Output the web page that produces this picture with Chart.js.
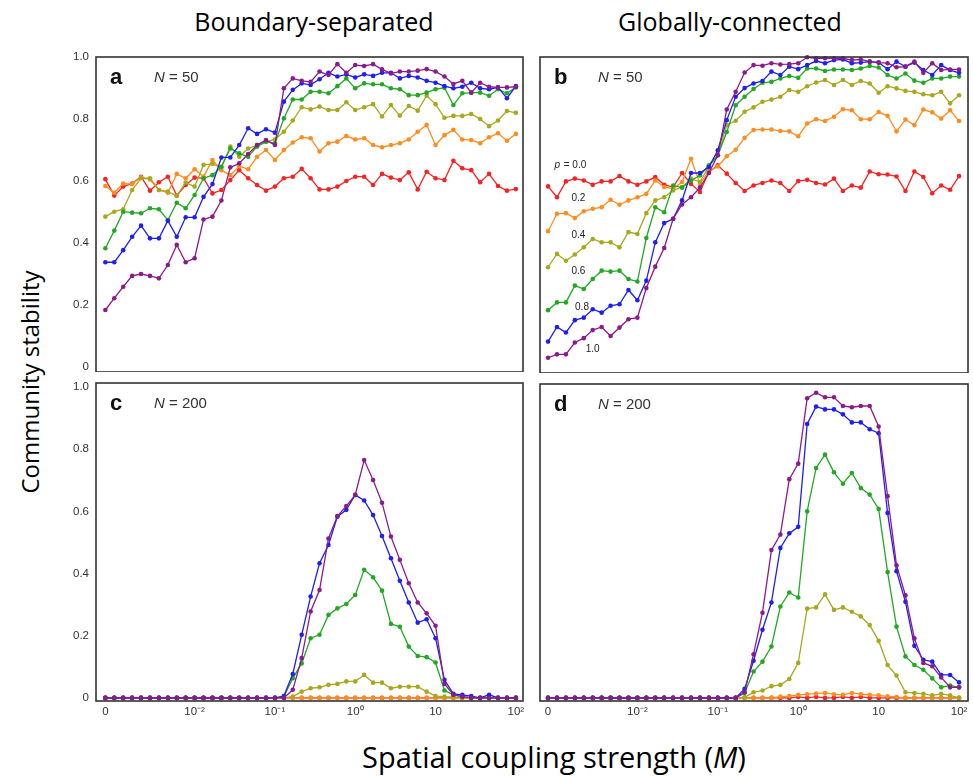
<!DOCTYPE html>
<html>
<head>
<meta charset="utf-8">
<script src="https://cdn.jsdelivr.net/npm/chart.js@4.4.0/dist/chart.umd.min.js"></script>
<style>
  body { margin:0; background:#fff; width:973px; height:777px; position:relative; overflow:hidden; }
  canvas { position:absolute; }
  .head { position:absolute; font-family:"Open Sans", sans-serif; color:#000; white-space:nowrap; line-height:1.3; }
</style>
</head>
<body>
<div class="head" style="left:314px;top:5px;font-size:25px;transform:translateX(-50%)">Boundary-separated</div>
<div class="head" style="left:730px;top:5px;font-size:25px;transform:translateX(-50%)">Globally-connected</div>
<div class="head" style="left:30px;top:382px;font-size:24px;transform:translate(-50%,-50%) rotate(-90deg)">Community stability</div>
<div class="head" style="left:554px;top:738px;font-size:29px;transform:translateX(-50%)">Spatial coupling strength (<i>M</i>)</div>

<canvas id="chartA" width="475" height="323" style="left:56px;top:49px"></canvas>
<canvas id="chartB" width="476" height="324" style="left:500px;top:49px"></canvas>
<canvas id="chartC" width="475" height="350" style="left:56px;top:375px"></canvas>
<canvas id="chartD" width="476" height="349" style="left:500px;top:376px"></canvas>

<script>
// x positions: M = 0, then 10^-3 .. 10^2 with 9 steps per decade
const mIndex = [0,1,2,3,4,5,6,7,8,9,10,11,12,13,14,15,16,17,18,19,20,21,22,23,24,25,26,27,28,29,30,31,32,33,34,35,36,37,38,39,40,41,42,43,44,45,46];
const tickPos = [0, 10, 19, 28, 37, 46];
const tickText = ['0', '10⁻²', '10⁻¹', '10⁰', '10', '10²'];
const yTicks = [0, 0.2, 0.4, 0.6, 0.8, 1.0];
const yTickText = ['0', '0.2', '0.4', '0.6', '0.8', '1.0'];
const pLabels = ['0.0', '0.2', '0.4', '0.6', '0.8', '1.0'];
const colors = ['#f82222', '#ff8c1e', '#a8a81e', '#22a822', '#1e1ef5', '#8c1a8c'];

// panel a: boundary-separated, N = 50
const a_p00 = [.606,.553,.582,.592,.614,.569,.596,.614,.553,.587,.611,.609,.560,.571,.603,.635,.609,.587,.569,.582,.609,.614,.639,.609,.573,.573,.582,.600,.614,.614,.587,.623,.611,.603,.628,.573,.630,.609,.603,.665,.641,.635,.596,.623,.584,.569,.574];
const a_p02 = [.584,.562,.592,.590,.612,.605,.571,.562,.623,.609,.638,.614,.668,.635,.619,.648,.638,.678,.700,.668,.700,.724,.741,.738,.695,.722,.727,.745,.734,.738,.716,.709,.716,.722,.734,.759,.781,.716,.748,.765,.734,.732,.722,.741,.754,.730,.752];
const a_p04 = [.485,.501,.509,.571,.609,.609,.571,.566,.552,.595,.582,.652,.655,.644,.711,.678,.705,.716,.727,.734,.759,.795,.838,.831,.840,.829,.829,.854,.829,.838,.848,.808,.845,.811,.842,.827,.875,.848,.804,.810,.810,.816,.800,.777,.795,.826,.820];
const a_p06 = [.383,.440,.501,.498,.496,.512,.509,.474,.530,.512,.555,.609,.619,.646,.705,.689,.678,.711,.727,.722,.802,.863,.863,.888,.888,.883,.906,.931,.899,.915,.912,.912,.899,.896,.877,.877,.885,.896,.901,.845,.883,.885,.885,.875,.896,.883,.902];
const a_p08 = [.338,.338,.377,.420,.456,.415,.415,.472,.420,.483,.483,.549,.590,.676,.676,.716,.770,.752,.767,.756,.856,.894,.915,.910,.928,.949,.937,.944,.934,.944,.939,.949,.949,.931,.939,.934,.923,.917,.906,.899,.904,.917,.899,.896,.902,.867,.906];
const a_p10 = [.184,.222,.259,.294,.300,.294,.286,.329,.394,.338,.351,.476,.485,.537,.644,.657,.687,.716,.732,.716,.899,.931,.923,.920,.953,.942,.977,.949,.974,.971,.977,.960,.947,.953,.953,.956,.961,.953,.937,.913,.923,.885,.917,.904,.902,.902,.904];

// panel b: globally-connected, N = 50
const b_p00 = [.584,.549,.600,.609,.603,.589,.600,.600,.617,.600,.589,.600,.614,.589,.582,.627,.592,.566,.630,.652,.625,.595,.569,.587,.595,.603,.595,.569,.601,.605,.595,.590,.609,.569,.587,.580,.632,.623,.622,.616,.569,.632,.614,.562,.587,.573,.617];
const b_p02 = [.440,.496,.498,.482,.504,.512,.517,.541,.525,.539,.549,.560,.603,.582,.576,.598,.673,.592,.633,.648,.681,.702,.740,.765,.767,.767,.762,.761,.745,.786,.800,.794,.808,.832,.829,.800,.800,.823,.811,.761,.799,.781,.831,.822,.802,.829,.794];
const b_p04 = [.324,.367,.345,.365,.388,.415,.404,.404,.388,.437,.431,.498,.539,.549,.571,.582,.609,.598,.648,.684,.781,.795,.824,.838,.856,.863,.872,.894,.888,.906,.918,.926,.910,.926,.910,.923,.915,.885,.906,.899,.891,.888,.880,.877,.888,.851,.877];
const b_p06 = [.186,.211,.211,.265,.254,.286,.313,.310,.313,.286,.278,.418,.517,.501,.587,.580,.603,.619,.652,.684,.759,.845,.872,.897,.917,.920,.931,.939,.933,.963,.963,.955,.960,.960,.958,.963,.971,.966,.942,.931,.947,.924,.917,.931,.931,.937,.937];
const b_p08 = [.085,.132,.114,.154,.162,.189,.178,.200,.205,.251,.218,.281,.404,.466,.480,.539,.627,.627,.646,.700,.797,.872,.900,.915,.923,.953,.942,.969,.961,.974,.987,.980,.990,.992,.980,.982,.985,.982,.961,.985,.969,.982,.958,.942,.974,.958,.949];
const b_p10 = [.033,.044,.044,.082,.096,.122,.132,.103,.130,.157,.162,.257,.326,.386,.480,.526,.549,.580,.627,.684,.831,.888,.950,.974,.972,.980,.976,.977,.980,.999,.996,.996,.996,.996,.990,.992,.985,.982,.980,.967,.969,.985,.949,.980,.958,.960,.960];

// panel c: boundary-separated, N = 200
const c_p00 = [0,0,0,0,0,0,0,0,0,0,0,0,0,0,0,0,0,0,0,0,0,0,0,0,0,0,0,0,0,0,0,0,0,0,0,0,0,0,0,0,0,0,0,0,0,0,0];
const c_p02 = [0,0,0,0,0,0,0,0,0,0,0,0,0,0,0,0,0,0,0,0,0,0,0,0,0,0,0,0,0,0,0,0,0,0,0,0,0,0,0,0,0,0,0,0,0,0,0];
const c_p04 = [0,0,0,0,0,0,0,0,0,0,0,0,0,0,0,0,0,0,0,0,0,.004,.020,.031,.034,.042,.045,.053,.053,.074,.049,.049,.031,.036,.036,.036,.020,.006,.004,.003,0,0,0,0,0,0,0];
const c_p06 = [0,0,0,0,0,0,0,0,0,0,0,0,0,0,0,0,0,0,0,0,.004,.063,.111,.192,.203,.267,.288,.302,.331,.412,.388,.345,.238,.229,.165,.135,.131,.114,.024,.010,.004,0,0,0,0,0,0];
const c_p08 = [0,0,0,0,0,0,0,0,0,0,0,0,0,0,0,0,0,0,0,0,.006,.077,.203,.326,.433,.492,.583,.605,.653,.635,.588,.521,.449,.377,.307,.242,.253,.192,.058,.013,.010,.006,0,.010,0,0,0];
const c_p10 = [0,0,0,0,0,0,0,0,0,0,0,0,0,0,0,0,0,0,0,0,0,.026,.128,.278,.347,.513,.585,.617,.653,.765,.701,.628,.519,.444,.369,.307,.272,.232,.045,.010,.004,0,0,0,0,0,0];

// panel d: globally-connected, N = 200
const d_p00 = [0,0,0,0,0,0,0,0,0,0,0,0,0,0,0,0,0,0,0,0,0,0,0,0,0,0,0,0,.003,0,.003,0,0,.003,0,.003,0,0,0,0,0,0,0,0,0,0,0];
const d_p02 = [0,0,0,0,0,0,0,0,0,0,0,0,0,0,0,0,0,0,0,0,0,0,0,0,0,0,.004,.006,.010,.012,.014,.016,.012,.010,.016,.012,.010,.008,.005,.003,0,0,0,0,0,0,0];
const d_p04 = [0,0,0,0,0,0,0,0,0,0,0,0,0,0,0,0,0,0,0,0,0,0,.002,.018,.024,.038,.042,.061,.113,.288,.292,.334,.284,.292,.278,.263,.235,.184,.106,.072,.018,.016,.013,.008,.013,.008,0];
const d_p06 = [0,0,0,0,0,0,0,0,0,0,0,0,0,0,0,0,0,0,0,0,0,0,.016,.085,.117,.166,.295,.340,.324,.602,.742,.785,.728,.691,.726,.677,.656,.610,.406,.230,.134,.106,.091,.063,.034,.040,.034];
const d_p08 = [0,0,0,0,0,0,0,0,0,0,0,0,0,0,0,0,0,0,0,0,0,0,.029,.120,.220,.308,.484,.531,.552,.884,.940,.931,.931,.915,.889,.889,.867,.854,.597,.409,.310,.168,.123,.117,.074,.074,.050];
const d_p10 = [0,0,0,0,0,0,0,0,0,0,0,0,0,0,0,0,0,0,0,0,0,0,.018,.141,.275,.477,.527,.706,.756,.967,.985,.970,.970,.942,.938,.942,.942,.876,.651,.428,.331,.192,.113,.102,.066,.034,.034];

const FONT = '"Liberation Sans", Arial, sans-serif';
Chart.defaults.font.family = FONT;

// frame, panel letter, N label and (panel b) p labels
const panelDeco = {
  id: 'panelDeco',
  afterDraw(chart, args, opts) {
    const ctx = chart.ctx, a = chart.chartArea;
    ctx.save();
    ctx.strokeStyle = '#333';
    ctx.lineWidth = 1.6;
    ctx.strokeRect(a.left, a.top, a.right - a.left, a.bottom - a.top);

    ctx.fillStyle = '#111';
    ctx.textBaseline = 'alphabetic';
    ctx.font = 'bold 22px ' + FONT;
    ctx.fillText(opts.letter, a.left + 14, a.top + 27);

    ctx.fillStyle = '#333';
    ctx.font = 'italic 15px ' + FONT;
    ctx.fillText('N', a.left + 58, a.top + 25);
    let w = ctx.measureText('N').width;
    ctx.font = '15px ' + FONT;
    ctx.fillText(' = ' + opts.n, a.left + 58 + w, a.top + 25);

    if (opts.tags) {
      const sx = chart.scales.x, sy = chart.scales.y;
      ctx.textBaseline = 'middle';
      ctx.fillStyle = '#222';
      opts.tags.forEach((t, k) => {
        let x = sx.getPixelForValue(t[0]), y = sy.getPixelForValue(t[1]);
        if (k === 0) {
          ctx.font = 'italic 10px ' + FONT;
          ctx.fillText('p', x - 16, y);
          ctx.font = '10px ' + FONT;
          ctx.fillText(' = ' + pLabels[k], x - 16 + ctx.measureText('p').width + 1, y);
        } else {
          ctx.font = '10px ' + FONT;
          ctx.textAlign = 'center';
          ctx.fillText(pLabels[k], x, y);
          ctx.textAlign = 'left';
        }
      });
    }
    ctx.restore();
  }
};

function noPad(s) {
  s.paddingTop = 0; s.paddingBottom = 0; s.paddingLeft = 0; s.paddingRight = 0;
}

function makeData(series) {
  return series.map((vals, k) => ({
    label: 'p = ' + pLabels[k],
    data: vals.map((v, i) => ({x: mIndex[i], y: v})),
    borderColor: colors[k],
    backgroundColor: colors[k],
    pointBackgroundColor: colors[k],
    borderWidth: 1.3,
    pointRadius: 2.3,
    pointBorderWidth: 0,
    tension: 0,
    order: 5 - k,
    clip: 6
  }));
}

function makeChart(id, series, cfg) {
  return new Chart(document.getElementById(id), {
    type: 'line',
    data: {datasets: makeData(series)},
    options: {
      responsive: false,
      animation: false,
      devicePixelRatio: 1,
      layout: {padding: {top: 8, right: 8, left: 0, bottom: 0}, autoPadding: false},
      plugins: {
        legend: {display: false},
        tooltip: {enabled: false},
        panelDeco: {letter: cfg.letter, n: cfg.n, tags: cfg.tags}
      },
      scales: {
        x: {
          type: 'linear', min: cfg.xmin, max: cfg.xmax,
          grid: {display: false, drawTicks: false}, border: {display: false},
          afterBuildTicks: s => { s.ticks = tickPos.map(v => ({value: v})); },
          afterFit: s => { s.height = cfg.xLabels ? 24 : 0; noPad(s); },
          ticks: {display: cfg.xLabels, autoSkip: false, maxRotation: 0, padding: 4,
                  color: '#333', font: {size: 11.5}, callback: (v, i) => tickText[i]}
        },
        y: {
          min: cfg.ymin, max: cfg.ymax,
          grid: {display: false, drawTicks: false}, border: {display: false},
          afterBuildTicks: s => { s.ticks = yTicks.map(v => ({value: v})); },
          afterFit: s => { s.width = 40; noPad(s); },
          ticks: {display: cfg.yLabels, padding: 7, color: '#333', font: {size: 11.5},
                  callback: (v, i) => yTickText[i]}
        }
      }
    },
    plugins: [panelDeco]
  });
}

const pTagPos = [[2.5, 0.652], [3.4, 0.545], [3.4, 0.426], [3.4, 0.31], [3.8, 0.197], [5.0, 0.061]];

makeChart('chartA', [a_p00, a_p02, a_p04, a_p06, a_p08, a_p10],
  {letter: 'a', n: '50', xmin: -1.05, xmax: 46.8, ymin: -0.016, ymax: 1.0, xLabels: false, yLabels: true});
makeChart('chartB', [b_p00, b_p02, b_p04, b_p06, b_p08, b_p10],
  {letter: 'b', n: '50', xmin: -0.9, xmax: 47.0, ymin: -0.016, ymax: 1.0, xLabels: false, yLabels: false, tags: pTagPos});
makeChart('chartC', [c_p00, c_p02, c_p04, c_p06, c_p08, c_p10],
  {letter: 'c', n: '200', xmin: -1.05, xmax: 46.8, ymin: -0.01, ymax: 1.013, xLabels: true, yLabels: true});
makeChart('chartD', [d_p00, d_p02, d_p04, d_p06, d_p08, d_p10],
  {letter: 'd', n: '200', xmin: -0.9, xmax: 47.0, ymin: -0.01, ymax: 1.013, xLabels: true, yLabels: false});
</script>
</body>
</html>
